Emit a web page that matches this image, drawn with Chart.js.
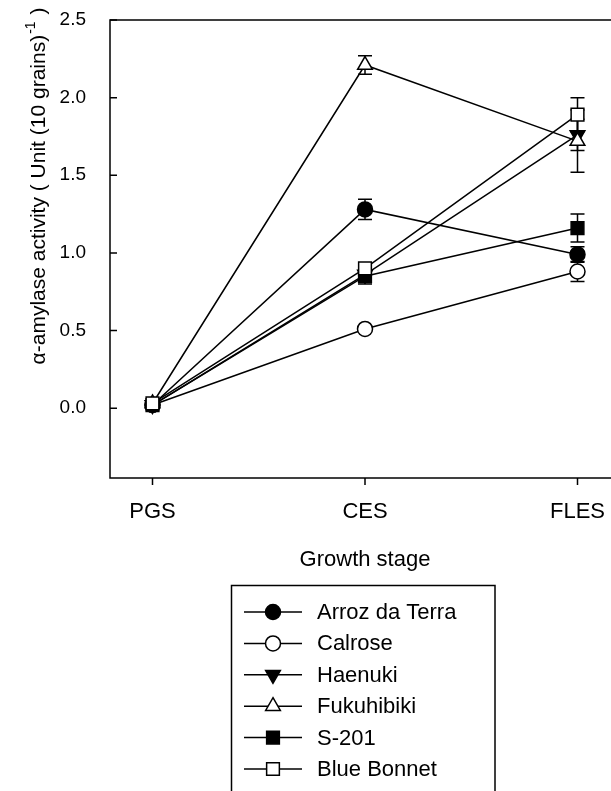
<!DOCTYPE html>
<html>
<head>
<meta charset="utf-8">
<script src="https://cdn.jsdelivr.net/npm/chart.js@4"></script>
<style>
html,body{margin:0;padding:0;background:#fff;overflow:hidden;}
#wrap{width:620px;height:791px;}
</style>
</head>
<body>
<div id="wrap"><canvas id="c" width="620" height="791"></canvas></div>
<script>
// ---- data ----
const stages = ["PGS", "CES", "FLES"];
const seriesNames = ["Arroz da Terra", "Calrose", "Haenuki", "Fukuhibiki", "S-201", "Blue Bonnet"];
const arrozDaTerra = [0.02, 1.28, 0.99];
const calrose      = [0.02, 0.51, 0.88];
const haenuki      = [0.02, 0.86, 1.76];
const fukuhibiki   = [0.03, 2.21, 1.72];
const s201         = [0.02, 0.85, 1.16];
const blueBonnet   = [0.03, 0.90, 1.89];
const errArroz      = [0.01, 0.065, 0.05];
const errCalrose    = [0.01, 0.02, 0.065];
const errHaenuki    = [0.01, 0.04, 0.10];
const errFukuhibiki = [0.01, 0.06, 0.20];
const errS201       = [0.01, 0.05, 0.09];
const errBlueBonnet = [0.01, 0.03, 0.11];
const yTickValues = [0.0, 0.5, 1.0, 1.5, 2.0, 2.5];
const yTickLabels = ["0.0", "0.5", "1.0", "1.5", "2.0", "2.5"];
const xTitle = "Growth stage";

// ---- styles ----
const values = [arrozDaTerra, calrose, haenuki, fukuhibiki, s201, blueBonnet];
const errors = [errArroz, errCalrose, errHaenuki, errFukuhibiki, errS201, errBlueBonnet];
const styles = [
  {pointStyle:'circle',   fill:'#000', radius:7.5, rotation:0},
  {pointStyle:'circle',   fill:'#fff', radius:7.5, rotation:0},
  {pointStyle:'triangle', fill:'#000', radius:8.5, rotation:180},
  {pointStyle:'triangle', fill:'#fff', radius:8.5, rotation:0},
  {pointStyle:'rect',     fill:'#000', radius:9,   rotation:0},
  {pointStyle:'rect',     fill:'#fff', radius:9,   rotation:0}
];
const FONT = "'Liberation Sans', Arial, Helvetica, sans-serif";

const datasets = seriesNames.map((name, i) => ({
  label: name,
  data: values[i].map((v, j) => ({x: j, y: v})),
  borderColor: '#000',
  borderWidth: 1.5,
  pointStyle: styles[i].pointStyle,
  pointRotation: styles[i].rotation,
  pointRadius: styles[i].radius,
  pointHoverRadius: styles[i].radius,
  pointBackgroundColor: styles[i].fill,
  pointBorderColor: '#000',
  pointBorderWidth: 1.5,
  showLine: true,
  fill: false,
  tension: 0,
  order: 10 - i,
  errs: errors[i]
}));

const decor = {
  id: 'decor',
  beforeDatasetsDraw(chart) {
    const ctx = chart.ctx, xs = chart.scales.x, ys = chart.scales.y;
    ctx.save();
    ctx.strokeStyle = '#000';
    ctx.lineWidth = 1.5;
    chart.data.datasets.forEach(ds => {
      ds.data.forEach((p, j) => {
        const e = ds.errs[j];
        const px = xs.getPixelForValue(p.x);
        const top = ys.getPixelForValue(p.y + e);
        const bot = ys.getPixelForValue(p.y - e);
        ctx.beginPath();
        ctx.moveTo(px, top); ctx.lineTo(px, bot);
        ctx.moveTo(px - 7, top); ctx.lineTo(px + 7, top);
        ctx.moveTo(px - 7, bot); ctx.lineTo(px + 7, bot);
        ctx.stroke();
      });
    });
    ctx.restore();
  },
  afterDraw(chart) {
    const ctx = chart.ctx, a = chart.chartArea, xs = chart.scales.x, ys = chart.scales.y;
    ctx.save();
    ctx.strokeStyle = '#000';
    ctx.lineWidth = 1.5;
    // frame
    ctx.strokeRect(a.left, a.top, a.right - a.left, a.bottom - a.top);
    // inside y ticks
    ctx.beginPath();
    yTickValues.forEach(v => {
      const py = ys.getPixelForValue(v);
      ctx.moveTo(a.left, py); ctx.lineTo(a.left + 7, py);
    });
    // outside x ticks
    stages.forEach((s, j) => {
      const px = xs.getPixelForValue(j);
      ctx.moveTo(px, a.bottom); ctx.lineTo(px, a.bottom + 7);
    });
    ctx.stroke();

    // x title
    ctx.fillStyle = '#000';
    ctx.font = "22px " + FONT;
    ctx.textAlign = 'center';
    ctx.textBaseline = 'middle';
    ctx.fillText(xTitle, (a.left + a.right) / 2, 560);

    // y title (rotated, with superscript)
    const mainT = "\u03B1-amylase activity ( Unit (10 grains)";
    const supT = "-1";
    const endT = " )";
    ctx.save();
    ctx.translate(37, 186);
    ctx.rotate(-Math.PI / 2);
    ctx.textAlign = 'left';
    ctx.textBaseline = 'alphabetic';
    ctx.font = "21px " + FONT;
    const w1 = ctx.measureText(mainT).width;
    const w3 = ctx.measureText(endT).width;
    ctx.font = "14px " + FONT;
    const w2 = ctx.measureText(supT).width;
    const total = w1 + w2 + w3 + 2;
    let x0 = -total / 2;
    const base = 8;
    ctx.font = "21px " + FONT;
    ctx.fillText(mainT, x0, base);
    ctx.font = "14px " + FONT;
    ctx.fillText(supT, x0 + w1 + 1, base - 10);
    ctx.font = "21px " + FONT;
    ctx.fillText(endT, x0 + w1 + w2 + 2, base);
    ctx.restore();

    // legend
    const L = {left: 231.5, top: 585.5, right: 495, bottom: 800};
    ctx.lineWidth = 1.5;
    ctx.strokeRect(L.left, L.top, L.right - L.left, L.bottom - L.top);
    const rowY0 = 612, rowDy = 31.4;
    chart.data.datasets.forEach((ds, i) => {
      const ry = rowY0 + i * rowDy;
      ctx.beginPath();
      ctx.strokeStyle = '#000';
      ctx.lineWidth = 1.5;
      ctx.moveTo(244, ry); ctx.lineTo(302, ry);
      ctx.stroke();
      ctx.fillStyle = ds.pointBackgroundColor;
      ctx.strokeStyle = '#000';
      ctx.lineWidth = 1.5;
      Chart.helpers.drawPoint(ctx, {
        pointStyle: ds.pointStyle,
        rotation: ds.pointRotation,
        radius: ds.pointRadius,
        borderWidth: 1.5
      }, 273, ry);
      ctx.fillStyle = '#000';
      ctx.font = "22px " + FONT;
      ctx.textAlign = 'left';
      ctx.textBaseline = 'middle';
      ctx.fillText(ds.label, 317, ry + 1);
    });
    ctx.restore();
  }
};

new Chart(document.getElementById('c'), {
  type: 'scatter',
  data: {datasets},
  options: {
    responsive: false,
    animation: false,
    devicePixelRatio: 1,
    layout: {autoPadding: false, padding: {top: 20, left: 0, right: 0, bottom: 0}},
    plugins: {legend: {display: false}, tooltip: {enabled: false}},
    scales: {
      x: {
        type: 'linear',
        min: -0.2, max: 2.2,
        afterBuildTicks: s => { s.ticks = stages.map((_, j) => ({value: j})); },
        afterFit: s => { s.height = 791 - 478; s.paddingLeft = 0; s.paddingRight = 0; },
        ticks: {
          callback: v => stages[v],
          color: '#000',
          font: {family: FONT, size: 22},
          padding: 21,
          maxRotation: 0,
          autoSkip: false
        },
        grid: {display: false, drawTicks: false},
        border: {display: false}
      },
      y: {
        type: 'linear',
        min: -0.45, max: 2.5,
        afterBuildTicks: s => { s.ticks = yTickValues.map(v => ({value: v})); },
        afterFit: s => { s.width = 110; s.paddingTop = 0; s.paddingBottom = 0; },
        ticks: {
          callback: (v, i) => yTickLabels[yTickValues.indexOf(v)],
          color: '#000',
          font: {family: FONT, size: 19},
          padding: 24,
          autoSkip: false
        },
        grid: {display: false, drawTicks: false},
        border: {display: false}
      }
    }
  },
  plugins: [decor]
});
</script>
</body>
</html>
